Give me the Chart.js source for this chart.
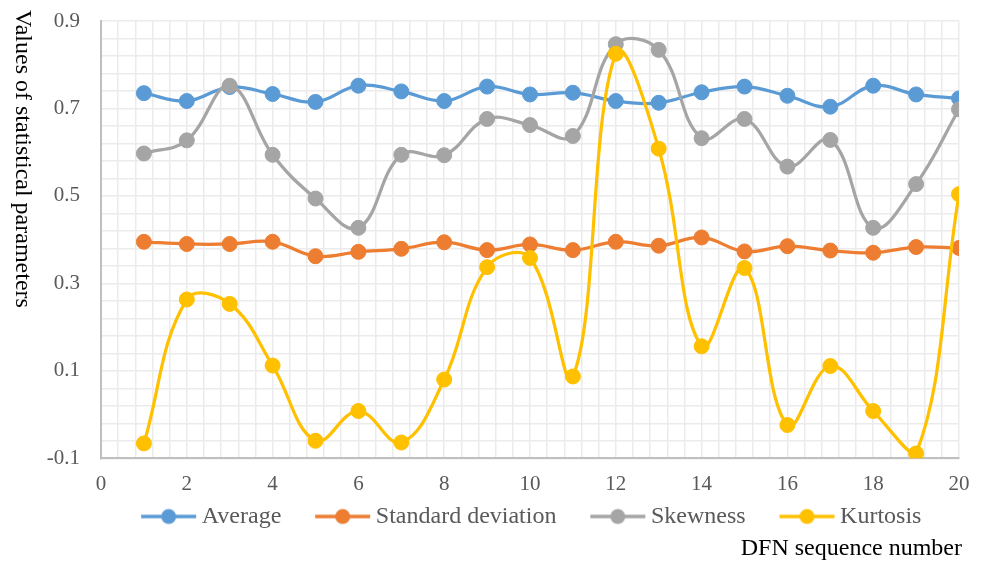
<!DOCTYPE html>
<html>
<head>
<meta charset="utf-8">
<script src="https://cdn.jsdelivr.net/npm/chart.js@4.4.1/dist/chart.umd.min.js"></script>
<style>
  html, body { margin: 0; padding: 0; background: #fff; }
  #wrap { width: 982px; height: 563px; }
</style>
</head>
<body>
<div id="wrap"><canvas id="statsChart" width="982" height="563"></canvas></div>
<script>
// DFN sequence numbers (x) and the four statistical parameters
const seqNo = [1, 2, 3, 4, 5, 6, 7, 8, 9, 10, 11, 12, 13, 14, 15, 16, 17, 18, 19, 20];
const average = [0.735, 0.717, 0.749, 0.733, 0.715, 0.752, 0.739, 0.717, 0.750, 0.732,
                 0.736, 0.717, 0.713, 0.737, 0.750, 0.729, 0.704, 0.752, 0.732, 0.723];
const stdDev = [0.395, 0.390, 0.390, 0.395, 0.362, 0.372, 0.379, 0.394, 0.376, 0.389,
                0.376, 0.395, 0.386, 0.405, 0.373, 0.385, 0.375, 0.370, 0.383, 0.381];
const skewness = [0.597, 0.627, 0.752, 0.594, 0.494, 0.427, 0.594, 0.593, 0.676, 0.662,
                  0.637, 0.847, 0.834, 0.632, 0.676, 0.567, 0.628, 0.427, 0.527, 0.698];
const kurtosis = [-0.066, 0.263, 0.253, 0.112, -0.060, 0.008, -0.064, 0.080, 0.337, 0.358,
                  0.087, 0.825, 0.608, 0.156, 0.335, -0.024, 0.111, 0.008, -0.089, 0.504];

const seriesNames = ['Average', 'Standard deviation', 'Skewness', 'Kurtosis'];
const xTitle = 'DFN sequence number';
const yTitle = 'Values of statistical parameters';

const colors = ['#5B9BD5', '#ED7D31', '#A5A5A5', '#FFC000'];
const serif = "'Liberation Serif', 'Times New Roman', serif";

function toPoints(values) {
    return seqNo.map((x, i) => ({ x: x, y: values[i] }));
}

// legend icon: short line with a dot in the middle (Excel style)
const iconCache = {};
function legendIcon(color) {
    if (iconCache[color]) return iconCache[color];
    const c = document.createElement('canvas');
    c.width = 88;
    c.height = 18;
    const g = c.getContext('2d');
    g.strokeStyle = color;
    g.lineWidth = 3.5;
    g.beginPath();
    g.moveTo(32, 9);
    g.lineTo(87, 9);
    g.stroke();
    g.fillStyle = color;
    g.beginPath();
    g.arc(59.5, 9, 7.5, 0, Math.PI * 2);
    g.fill();
    iconCache[color] = c;
    return c;
}

// axis titles: y title reads top to bottom, x title sits under the legend
const axisTitles = {
    id: 'axisTitles',
    afterDraw(chart) {
        const ctx = chart.ctx;
        ctx.save();
        ctx.fillStyle = '#000';
        ctx.font = '24px ' + serif;
        ctx.textBaseline = 'middle';
        ctx.textAlign = 'right';
        ctx.fillText(xTitle, 962, 549);
        ctx.translate(22, 10);
        ctx.rotate(Math.PI / 2);
        ctx.textAlign = 'left';
        ctx.fillText(yTitle, 0, 0);
        ctx.restore();
    }
};

// the original legend is centred a bit further left than Chart.js puts it
const legendShift = {
    id: 'legendShift',
    afterLayout(chart) {
        chart.legend.left -= 11;
        chart.legend.right -= 11;
    }
};

const allSeries = [average, stdDev, skewness, kurtosis];
const datasets = allSeries.map((vals, i) => ({
    label: seriesNames[i],
    data: toPoints(vals),
    borderColor: colors[i],
    backgroundColor: colors[i],
    pointBackgroundColor: colors[i],
    pointBorderColor: colors[i],
    borderWidth: 3.25,
    pointRadius: 7.5,
    pointBorderWidth: 1,
    pointHoverRadius: 7.5,
    tension: 0.4,
    fill: false,
    order: allSeries.length - i   // later series drawn on top, like the original
}));

function isMajor(v, start, step) {
    const k = (v - start) / step;
    return Math.abs(k - Math.round(k)) < 1e-6;
}

const ctx = document.getElementById('statsChart').getContext('2d');
new Chart(ctx, {
    type: 'line',
    data: { datasets: datasets },
    options: {
        responsive: false,
        animation: false,
        events: [],
        layout: {
            padding: { top: 21, right: 23, bottom: 24.5, left: 0 }
        },
        plugins: {
            tooltip: { enabled: false },
            title: { display: false },
            legend: {
                display: true,
                position: 'bottom',
                fullSize: false,
                labels: {
                    usePointStyle: true,
                    pointStyleWidth: 73.25,
                    padding: 9.25,
                    color: '#595959',
                    font: { family: serif, size: 24 },
                    generateLabels: chart => chart.data.datasets.map((ds, i) => ({
                        text: ds.label,
                        fillStyle: ds.borderColor,
                        strokeStyle: ds.borderColor,
                        fontColor: '#595959',
                        lineWidth: 0,
                        pointStyle: legendIcon(ds.borderColor),
                        hidden: !chart.isDatasetVisible(i),
                        datasetIndex: i
                    }))
                }
            }
        },
        scales: {
            x: {
                type: 'linear',
                min: 0,
                max: 20,
                afterFit: scale => {
                    scale.height = 37;
                    scale.paddingLeft = 0;
                    scale.paddingRight = 0;
                },
                ticks: {
                    stepSize: 0.4,
                    autoSkip: false,
                    maxRotation: 0,
                    padding: 15.5,
                    color: '#595959',
                    font: { family: serif, size: 21, lineHeight: 1 },
                    callback: v => isMajor(v, 0, 2) ? String(Math.round(v)) : ''
                },
                grid: { color: '#EBEBEB', lineWidth: 1.5, drawTicks: false },
                border: { color: '#BFBFBF', width: 2 }
            },
            y: {
                type: 'linear',
                min: -0.1,
                max: 0.9,
                afterFit: scale => {
                    scale.width = 101;
                    scale.paddingTop = 0;
                    scale.paddingBottom = 0;
                },
                ticks: {
                    stepSize: 0.04,
                    autoSkip: false,
                    padding: 21,
                    color: '#595959',
                    font: { family: serif, size: 21 },
                    callback: v => isMajor(v, -0.1, 0.2) ? v.toFixed(1) : ''
                },
                grid: { color: '#EBEBEB', lineWidth: 1.5, drawTicks: false },
                border: { color: '#BFBFBF', width: 2 }
            }
        }
    },
    plugins: [axisTitles, legendShift]
});
</script>
</body>
</html>
